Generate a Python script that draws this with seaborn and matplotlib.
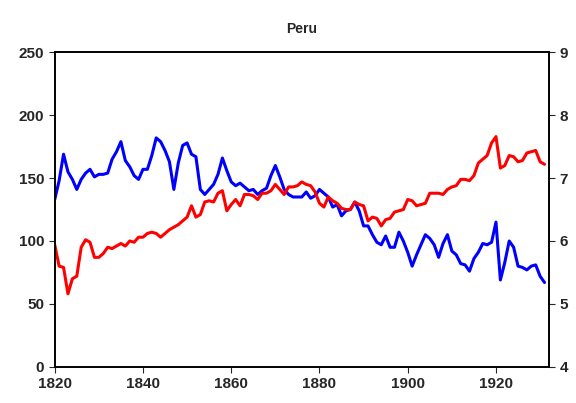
import seaborn as sns
import pandas as pd
import matplotlib.pyplot as plt

years = list(range(1820, 1932))
blue = [133, 148, 169, 155, 149, 141, 149, 154, 157, 151, 153, 153, 154, 165, 171, 179,
        164, 159, 152, 149, 157, 157, 168, 182, 179, 172, 163, 141, 162, 176, 178, 169,
        167, 141, 137, 141, 145, 153, 166, 156, 147, 144, 146, 143, 140, 141, 137, 140,
        142, 152, 160, 151, 141, 137, 135, 135, 135, 139, 134, 136, 141, 138, 135, 127,
        129, 120, 124, 125, 131, 124, 112, 112, 105, 99, 97, 104, 95, 95, 107, 100,
        91, 80, 89, 97, 105, 102, 97, 87, 98, 105, 92, 89, 82, 81, 76, 86,
        91, 98, 97, 99, 115, 69, 83, 100, 95, 80, 79, 77, 80, 81, 72, 67]
red = [97, 80, 79, 58, 70, 72, 95, 101, 99, 87, 87, 90, 95, 94, 96, 98,
       96, 100, 99, 103, 103, 106, 107, 106, 103, 106, 109, 111, 113, 116, 119, 128,
       119, 121, 131, 132, 131, 138, 140, 124, 129, 133, 128, 137, 137, 136, 133, 138,
       138, 140, 145, 141, 137, 143, 143, 144, 147, 145, 144, 139, 130, 127, 135, 132,
       130, 126, 125, 125, 131, 129, 128, 116, 119, 118, 112, 117, 118, 123, 124, 125,
       133, 132, 128, 129, 130, 138, 138, 138, 137, 141, 143, 144, 149, 149, 148, 152,
       162, 165, 168, 178, 183, 158, 160, 168, 167, 163, 164, 170, 171, 172, 163, 161]

df = pd.DataFrame({"year": years, "blue": blue, "red": red})

sns.set_style("white")
plt.rcParams['font.family'] = ['Liberation Sans', 'DejaVu Sans']
plt.rcParams['font.weight'] = 'bold'

fig, ax = plt.subplots(figsize=(5.76, 4.03), dpi=100)
sns.lineplot(data=df, x="year", y="blue", color="#0000ff", lw=2.2, ax=ax)
sns.lineplot(data=df, x="year", y="red", color="#ff0000", lw=2.2, ax=ax)
ax.set_xlim(1820, 1932)
ax.set_ylim(0, 250)
ax.set_xticks(range(1820, 1921, 20))
ax.set_yticks(range(0, 251, 50))
ax.set_xlabel("")
ax.set_ylabel("")
ax.set_title("Peru", fontsize=10, fontweight="bold", pad=14)
ax.tick_params(labelsize=11, direction="out", length=4, left=True, bottom=True)

ax2 = ax.twinx()
ax2.set_ylim(4, 9)
ax2.set_yticks(range(4, 10))
ax2.tick_params(labelsize=11, direction="out", length=4, right=True)
for a in (ax, ax2):
    for s in a.spines.values():
        s.set_color("black")
        s.set_linewidth(1.2)

fig.subplots_adjust(left=0.095, right=0.953, top=0.87, bottom=0.09)
fig.savefig("out.png")
